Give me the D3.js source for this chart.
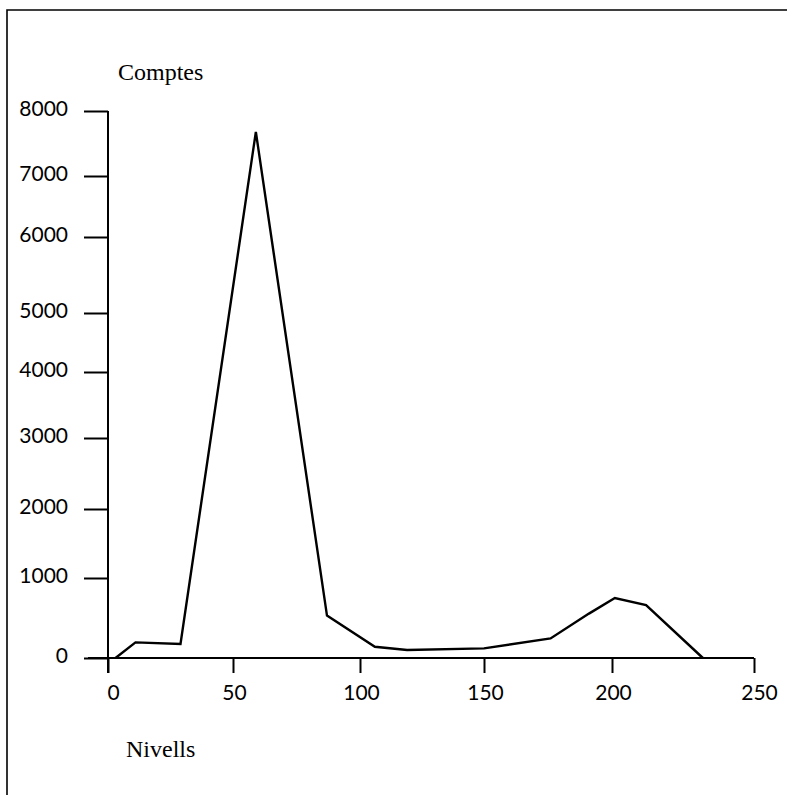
<!DOCTYPE html>
<html>
<head>
<meta charset="utf-8">
<script src="https://cdn.jsdelivr.net/npm/d3@7"></script>
<style>
  body { margin: 0; background: #fff; }
  svg { display: block; }
</style>
</head>
<body>
<div id="svg-container"></div>
<script>
// Data.
const levels = [3, 11, 29, 59, 87, 106, 119, 150, 176, 191, 201, 212, 232];
const counts = [0, 195, 175, 7680, 530, 140, 100, 120, 245, 555, 750, 660, 0];

const xTicks = [0, 50, 100, 150, 200, 250];
const yTicks = [0, 1000, 2000, 3000, 4000, 5000, 6000, 7000, 8000];

const xLabel = 'Nivells';
const yLabel = 'Comptes';

// Layout. The scan's ticks are not evenly spaced, so the scales are
// piecewise linear through the printed tick positions.
const width = 787;
const height = 795;
const xTickPos = [108, 233, 360, 484, 612, 754];
const yTickPos = [658, 578, 509, 438, 372, 313, 237, 176, 111];

const xScale = d3.scaleLinear()
      .domain(xTicks)
      .range(xTickPos);
const yScale = d3.scaleLinear()
      .domain(yTicks)
      .range(yTickPos);

const svg = d3.select('div#svg-container')
      .append('svg')
      .attr('width', width)
      .attr('height', height);

// Frame (cropped at right and bottom in the scan).
svg.append('path')
  .attr('d', `M7,${height} V10 H${width}`)
  .attr('fill', 'none')
  .attr('stroke', '#000')
  .attr('stroke-width', 1.6);

const x0 = xScale(0);
const y0 = yScale(0);

// Axes.
const yAxis = d3.axisLeft(yScale)
      .tickValues(yTicks)
      .tickSize(24)
      .tickPadding(16)
      .tickFormat(d3.format('d'));

const xAxis = d3.axisBottom(xScale)
      .tickValues(xTicks)
      .tickSize(15)
      .tickPadding(12)
      .tickFormat(d3.format('d'));

const gy = svg.append('g')
      .attr('id', 'y-axis')
      .attr('transform', `translate(${x0},0)`)
      .call(yAxis);

const gx = svg.append('g')
      .attr('id', 'x-axis')
      .attr('transform', `translate(0,${y0})`)
      .call(xAxis);

[gx, gy].forEach((g) =>
  {
    g.select('.domain').remove();
    g.selectAll('line')
      .attr('stroke', '#000')
      .attr('stroke-width', 2);
    g.selectAll('text')
      .attr('fill', '#000')
      .style('font-family', 'Lato, "Open Sans", sans-serif')
      .style('font-size', '21px');
  });

gy.selectAll('text').attr('dy', '0.22em');
// The scan prints the 0 and 250 a little right of their ticks.
gx.selectAll('text').attr('dx', (d) => (d === 0 || d === 250) ? 5 : 1);

// Axis lines: the x axis runs a little left of the y axis,
// and the y axis runs down to the foot of the 0 tick.
svg.append('line')
  .attr('x1', x0 - 20)
  .attr('x2', xScale(250))
  .attr('y1', y0)
  .attr('y2', y0)
  .attr('stroke', '#000')
  .attr('stroke-width', 2);

svg.append('line')
  .attr('x1', x0)
  .attr('x2', x0)
  .attr('y1', yScale(8000))
  .attr('y2', y0 + 15)
  .attr('stroke', '#000')
  .attr('stroke-width', 2);

// The histogram outline.
const pts = levels.map((d, i) => [d, counts[i]]);
const line = d3.line()
      .x((d) => xScale(d[0]))
      .y((d) => yScale(d[1]));

svg.append('path')
  .datum(pts)
  .attr('d', line)
  .attr('fill', 'none')
  .attr('stroke', '#000')
  .attr('stroke-width', 2.4)
  .attr('stroke-linejoin', 'miter');

// Titles.
svg.append('text')
  .attr('x', 118)
  .attr('y', 80)
  .style('font-family', '"Liberation Serif", "DejaVu Serif", serif')
  .style('font-size', '24px')
  .text(yLabel);

svg.append('text')
  .attr('x', 126)
  .attr('y', 757)
  .style('font-family', '"Liberation Serif", "DejaVu Serif", serif')
  .style('font-size', '24px')
  .text(xLabel);
</script>
</body>
</html>
